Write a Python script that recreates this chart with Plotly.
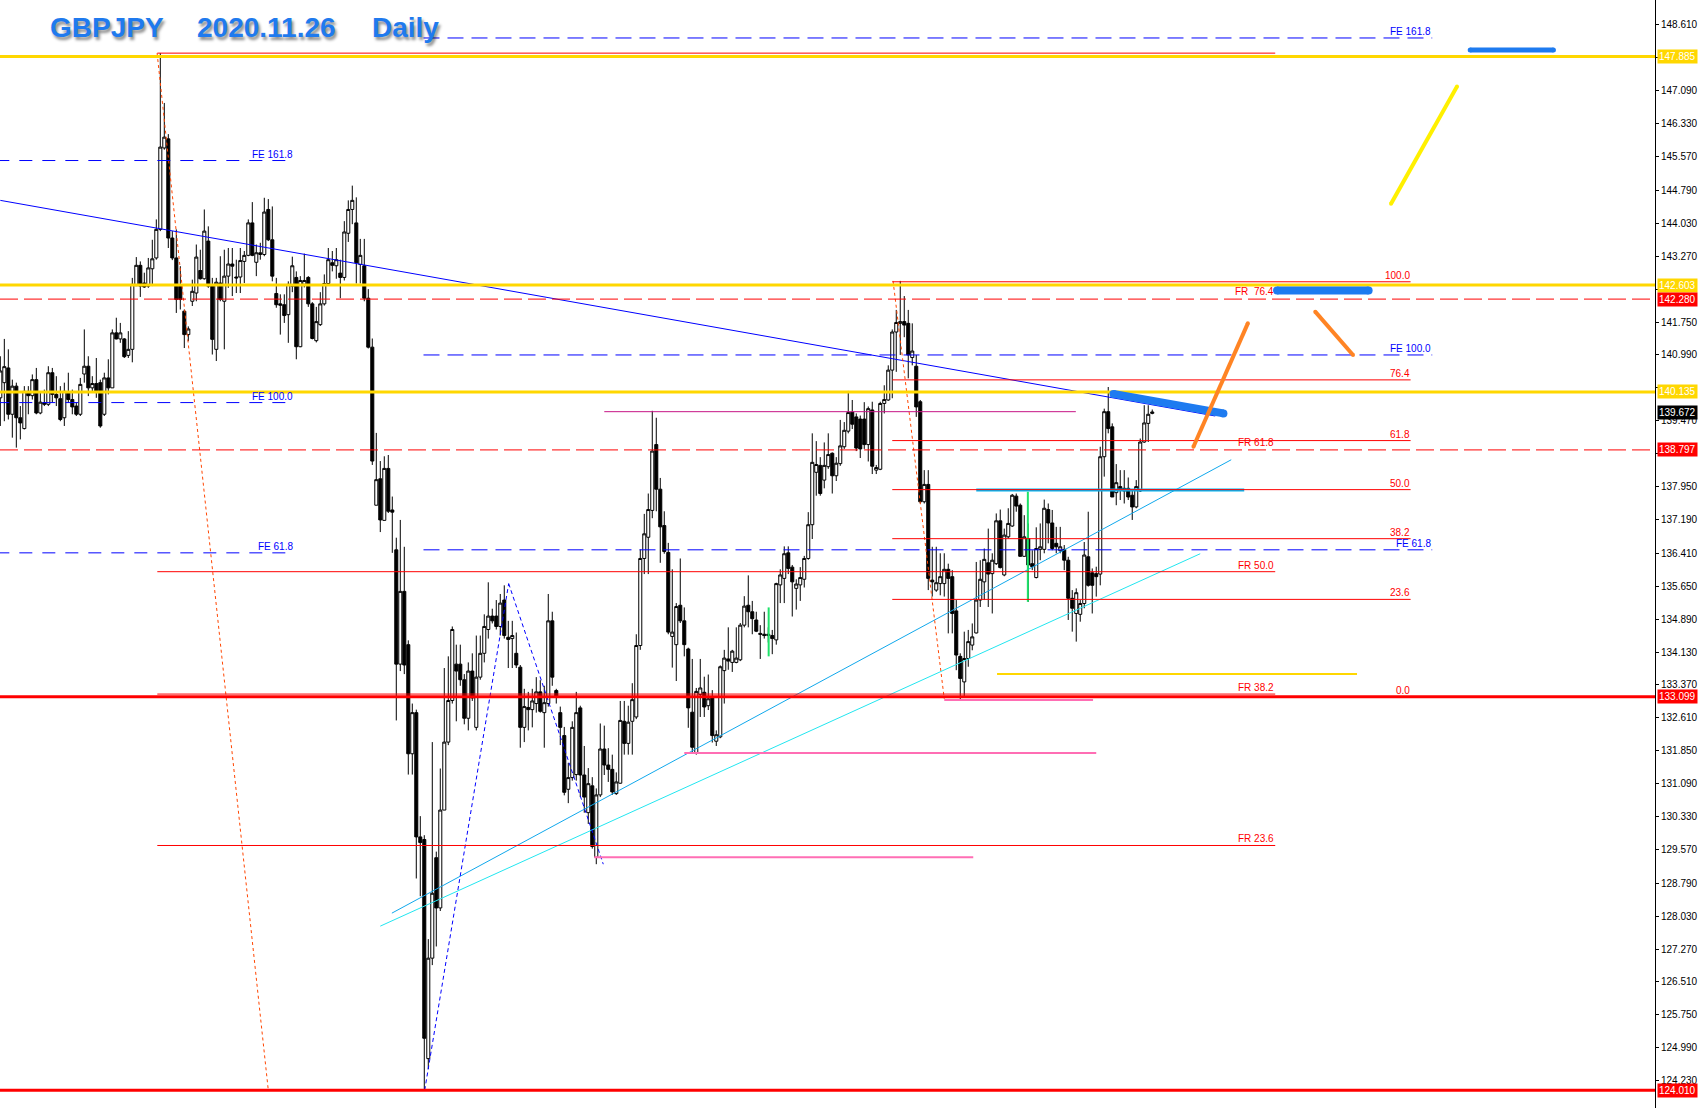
import plotly.graph_objects as go

# ---------------- daily candles (index 0 = first visible bar, last = 2020.11.26) ----------------
opens = [
    140.00, 140.35, 140.69, 139.62, 140.27, 139.54, 139.29, 140.15, 140.05, 140.42,
    139.65, 139.89, 139.85, 140.58, 140.08, 139.98, 139.54, 140.13, 139.96, 139.81,
    139.62, 140.55, 140.73, 140.23, 140.33, 140.35, 139.62, 140.46, 140.23, 141.50,
    141.36, 141.36, 140.98, 141.12, 142.59, 143.06, 142.65, 142.58, 142.98, 143.23,
    143.89, 145.77, 145.98, 143.69, 143.23, 142.58, 142.00, 141.46, 142.23, 142.42,
    142.94, 142.75, 143.62, 142.58, 141.12, 142.65, 142.23, 142.81, 143.09, 142.79,
    142.79, 143.15, 143.29, 144.04, 143.13, 143.31, 143.31, 144.35, 143.65, 142.41,
    142.17, 142.15, 141.92, 142.58, 142.78, 141.18, 142.62, 142.78, 142.17, 141.32,
    141.69, 142.17, 142.64, 143.12, 143.05, 142.88, 142.78, 143.80, 144.35, 144.04,
    143.08, 143.05, 142.30, 141.17, 137.52, 138.13, 137.17, 138.37, 137.41, 136.49,
    133.85, 135.53, 134.30, 131.78, 132.73, 129.86, 129.80, 124.74, 127.06, 129.38,
    128.22, 130.48, 132.05, 133.01, 133.85, 133.85, 133.49, 132.60, 133.69, 132.39,
    133.55, 134.10, 134.65, 134.96, 134.96, 134.72, 135.33, 134.47, 134.44, 134.10,
    133.78, 132.39, 132.85, 132.80, 132.94, 133.21, 132.73, 132.94, 134.85, 133.24,
    132.73, 132.20, 130.96, 131.23, 131.30, 132.84, 131.29, 130.42, 131.04, 129.39,
    130.83, 131.89, 131.52, 131.42, 130.86, 131.10, 132.53, 132.02, 132.53, 132.63,
    134.28, 136.29, 136.78, 137.40, 138.92, 137.89, 137.05, 136.43, 134.49, 134.30,
    135.21, 134.85, 134.20, 132.74, 131.81, 133.15, 133.20, 132.89, 133.07, 132.07,
    132.17, 133.70, 133.97, 133.89, 133.89, 133.95, 134.75, 135.21, 135.06, 134.87,
    134.56, 134.54, 134.51, 134.51, 134.41, 135.68, 135.83, 136.42, 136.09, 135.60,
    135.68, 135.81, 136.29, 137.07, 138.28, 138.44, 138.10, 138.41, 138.72, 138.20,
    138.48, 138.87, 139.23, 139.67, 139.56, 139.51, 139.51, 138.92, 139.72, 138.33,
    138.35, 139.87, 139.95, 140.64, 141.52, 141.72, 141.76, 141.72, 140.93, 140.73,
    139.91, 137.60, 138.00, 135.79, 135.56, 135.71, 135.71, 136.04, 135.87, 135.08,
    134.03, 133.44, 133.98, 134.29, 134.57, 135.33, 135.75, 136.19, 135.94, 136.17,
    137.16, 135.91, 136.79, 137.04, 137.73, 137.52, 136.34, 136.75, 136.17, 135.85,
    136.50, 136.50, 137.42, 137.11, 136.64, 136.47, 136.50, 136.25, 135.37, 135.02,
    135.00, 135.25, 136.33, 135.96, 135.94, 135.93, 138.64, 139.68, 139.33, 137.81,
    137.95, 137.91, 137.91, 137.75, 137.48, 137.85, 138.98, 139.41, 139.64,
]
highs = [
    140.96, 141.36, 141.12, 140.42, 140.35, 139.81, 140.27, 140.27, 140.54, 140.69,
    140.12, 140.19, 140.73, 140.69, 140.50, 140.27, 140.35, 140.58, 140.19, 139.89,
    140.46, 141.58, 140.96, 140.50, 140.92, 140.42, 140.58, 140.89, 141.58, 141.85,
    141.73, 141.38, 141.54, 142.77, 143.25, 143.15, 142.89, 143.23, 143.65, 144.12,
    147.96, 146.81, 146.09, 143.85, 143.89, 143.04, 142.04, 141.65, 142.73, 143.54,
    143.42, 144.35, 143.96, 142.77, 142.77, 143.27, 143.42, 143.46, 143.46, 143.19,
    143.46, 143.39, 144.12, 144.52, 143.54, 143.58, 144.62, 144.59, 144.42, 142.77,
    142.39, 142.39, 142.69, 143.26, 142.92, 142.81, 143.33, 142.81, 142.21, 142.10,
    142.44, 142.85, 143.46, 143.39, 143.46, 143.19, 144.08, 144.56, 144.90, 144.63,
    143.67, 143.67, 142.51, 141.37, 139.19, 138.54, 138.65, 138.68, 137.72, 136.77,
    137.18, 136.56, 134.40, 132.94, 132.80, 130.34, 129.90, 127.50, 132.05, 129.52,
    131.44, 133.76, 134.03, 134.72, 134.30, 134.30, 133.62, 133.89, 134.10, 134.51,
    134.51, 135.00, 135.74, 135.13, 135.33, 135.47, 135.67, 134.85, 134.85, 134.58,
    133.83, 133.28, 133.21, 133.28, 133.55, 133.48, 133.35, 135.47, 135.06, 133.28,
    132.87, 132.40, 131.57, 132.53, 133.21, 132.89, 131.96, 131.45, 131.24, 130.98,
    132.48, 132.43, 131.91, 131.76, 131.35, 133.00, 133.00, 132.89, 133.41, 134.54,
    136.50, 137.32, 137.79, 139.70, 139.54, 138.15, 137.38, 136.65, 136.04, 135.26,
    136.29, 135.16, 134.23, 133.97, 133.30, 133.97, 133.56, 133.61, 133.25, 132.32,
    133.82, 134.18, 134.70, 134.18, 134.70, 134.80, 135.42, 135.90, 135.31, 135.06,
    134.75, 135.06, 134.70, 134.64, 135.73, 136.04, 136.57, 136.57, 136.14, 135.81,
    136.09, 136.35, 137.36, 139.18, 139.00, 138.63, 138.97, 139.18, 138.74, 138.63,
    139.49, 139.44, 140.16, 139.95, 139.64, 139.59, 139.90, 139.80, 139.91, 138.45,
    139.91, 140.29, 140.75, 141.58, 142.03, 142.70, 142.35, 142.03, 141.72, 140.99,
    139.95, 138.33, 138.33, 136.56, 136.56, 136.41, 136.41, 136.17, 136.02, 135.33,
    134.10, 134.60, 134.64, 134.79, 136.21, 136.25, 136.52, 136.98, 136.41, 137.33,
    137.42, 136.98, 137.45, 137.78, 137.79, 137.56, 137.29, 137.10, 136.48, 137.01,
    137.10, 137.65, 137.56, 137.41, 137.02, 137.02, 136.60, 136.33, 135.56, 135.60,
    135.33, 136.67, 137.37, 136.06, 136.10, 138.87, 139.75, 140.25, 139.41, 138.47,
    138.33, 138.33, 138.16, 137.87, 138.10, 139.06, 139.83, 139.83, 139.73,
]
lows = [
    139.35, 139.46, 139.50, 139.08, 138.85, 139.04, 139.27, 139.62, 139.96, 139.62,
    139.62, 139.81, 139.81, 139.89, 139.81, 139.46, 139.35, 139.89, 139.62, 139.58,
    139.58, 140.35, 140.04, 140.12, 140.00, 139.31, 139.58, 140.08, 140.23, 141.35,
    141.27, 140.92, 140.92, 140.82, 142.58, 142.33, 142.54, 142.54, 142.58, 143.19,
    143.85, 145.73, 143.46, 143.18, 141.96, 142.04, 141.15, 141.31, 142.12, 142.23,
    142.73, 142.73, 142.54, 141.00, 140.85, 142.23, 141.12, 142.54, 142.35, 142.42,
    142.42, 142.65, 143.27, 143.27, 142.81, 143.19, 143.27, 143.62, 142.69, 142.08,
    141.46, 141.73, 141.27, 142.44, 140.89, 141.17, 142.55, 142.10, 141.35, 141.28,
    141.66, 142.13, 142.62, 142.92, 142.75, 142.30, 142.71, 143.60, 144.01, 142.64,
    142.64, 142.23, 141.14, 138.45, 137.52, 136.90, 137.17, 137.34, 136.42, 132.55,
    133.69, 133.62, 131.30, 131.30, 128.90, 128.49, 124.01, 124.50, 126.90, 127.33,
    128.15, 130.48, 131.98, 132.94, 132.53, 133.35, 132.46, 132.32, 133.00, 132.32,
    133.49, 133.89, 134.44, 134.79, 134.65, 134.51, 134.44, 133.76, 133.76, 133.76,
    131.92, 132.05, 132.32, 132.39, 132.73, 132.73, 131.92, 132.87, 133.35, 132.94,
    131.98, 130.82, 130.64, 131.16, 131.16, 130.78, 130.42, 130.16, 129.59, 129.23,
    130.78, 131.29, 131.13, 130.83, 130.83, 131.09, 131.76, 131.76, 131.76, 132.58,
    134.18, 135.93, 135.93, 137.22, 137.38, 136.19, 136.40, 134.54, 133.77, 133.46,
    134.80, 134.03, 132.38, 131.81, 131.76, 132.63, 132.63, 132.79, 132.04, 131.96,
    132.14, 132.94, 133.72, 133.67, 133.87, 133.92, 134.70, 134.70, 134.54, 134.59,
    133.97, 134.44, 134.35, 134.08, 134.30, 135.26, 135.26, 135.93, 134.95, 135.11,
    135.31, 135.62, 136.26, 136.74, 137.74, 137.74, 137.91, 138.36, 137.79, 138.08,
    138.43, 138.82, 139.18, 139.28, 138.77, 138.61, 138.82, 138.53, 138.24, 138.24,
    138.33, 139.64, 139.93, 139.99, 140.60, 140.99, 141.40, 140.45, 140.75, 139.56,
    137.56, 137.56, 135.56, 135.41, 135.52, 135.44, 135.41, 134.56, 134.56, 133.71,
    133.02, 133.10, 133.79, 134.17, 134.56, 135.17, 135.33, 135.17, 135.02, 136.14,
    136.06, 135.88, 136.75, 137.02, 137.37, 136.33, 136.33, 135.29, 136.02, 135.83,
    136.25, 136.41, 136.64, 136.48, 136.41, 136.41, 136.02, 134.87, 134.60, 134.37,
    134.83, 135.14, 135.64, 135.02, 135.41, 135.67, 138.18, 139.18, 137.71, 137.52,
    137.64, 137.56, 137.64, 137.18, 137.45, 137.83, 138.96, 138.98, 139.62,
]
closes = [
    140.62, 140.72, 139.62, 140.27, 139.54, 139.42, 140.15, 140.05, 140.42, 139.65,
    139.90, 139.85, 140.58, 140.08, 140.00, 139.50, 140.15, 139.96, 139.79, 139.62,
    140.31, 140.73, 140.23, 140.33, 140.15, 139.35, 140.46, 140.23, 141.50, 141.36,
    141.50, 140.95, 141.12, 142.62, 143.06, 142.58, 142.56, 143.00, 143.21, 143.89,
    145.79, 146.02, 143.69, 143.23, 142.27, 142.27, 141.46, 141.59, 142.46, 143.25,
    142.75, 143.85, 142.58, 141.35, 142.67, 142.27, 142.81, 143.09, 143.04, 142.77,
    143.17, 143.29, 144.04, 143.29, 143.35, 143.35, 144.29, 143.65, 142.81, 142.15,
    142.14, 141.90, 142.62, 143.05, 141.18, 142.71, 142.71, 142.17, 141.37, 141.76,
    142.17, 142.64, 143.19, 143.06, 143.19, 142.78, 143.83, 144.35, 144.56, 143.12,
    143.29, 142.30, 141.17, 138.54, 138.11, 137.18, 138.37, 137.38, 137.36, 133.85,
    135.53, 133.83, 131.78, 132.73, 129.86, 129.73, 125.21, 127.06, 128.56, 128.22,
    130.48, 132.05, 133.01, 134.65, 133.69, 133.49, 132.60, 133.69, 133.07, 133.55,
    134.10, 134.72, 134.96, 134.85, 134.72, 135.26, 134.51, 134.42, 134.51, 133.83,
    132.39, 132.87, 132.80, 133.00, 133.21, 132.76, 132.96, 134.85, 133.55, 133.08,
    132.39, 130.89, 131.23, 132.39, 132.73, 131.29, 130.78, 131.09, 129.64, 130.83,
    131.89, 131.52, 131.42, 130.90, 131.13, 132.55, 132.02, 132.51, 133.03, 134.28,
    136.29, 136.86, 137.42, 138.77, 137.89, 137.02, 136.45, 134.59, 134.59, 135.18,
    134.85, 134.30, 132.84, 131.93, 133.22, 133.30, 132.86, 133.05, 132.20, 132.22,
    133.79, 133.99, 133.92, 134.15, 133.99, 134.75, 135.19, 135.06, 134.90, 134.61,
    134.54, 134.51, 134.54, 134.44, 135.71, 135.91, 136.40, 136.06, 135.75, 135.70,
    135.85, 136.29, 137.07, 138.51, 138.46, 137.79, 138.44, 138.69, 138.20, 138.49,
    138.89, 139.25, 139.66, 139.39, 138.84, 138.82, 138.92, 139.75, 138.42, 138.39,
    139.87, 139.96, 140.64, 141.52, 141.74, 141.76, 141.68, 140.99, 141.08, 139.79,
    137.60, 138.00, 135.83, 135.75, 135.73, 135.87, 136.04, 135.83, 135.02, 134.06,
    133.52, 133.98, 134.37, 134.48, 135.33, 135.81, 136.27, 135.93, 136.25, 137.16,
    136.08, 136.83, 137.10, 137.75, 137.50, 136.34, 136.79, 136.14, 136.10, 136.52,
    136.56, 137.45, 137.11, 136.52, 136.56, 136.56, 136.25, 135.37, 135.14, 135.50,
    135.25, 136.37, 135.67, 135.67, 135.87, 138.64, 139.68, 139.29, 137.71, 138.04,
    137.87, 137.85, 137.71, 137.48, 137.95, 138.98, 139.42, 139.62, 139.672,
]
bar_index = list(range(len(opens)))

# ---------------- price axis ----------------
axis_ticks = [148.610, 147.850, 147.090, 146.330, 145.570, 144.790, 144.030, 143.270,
              142.510, 141.750, 140.990, 140.230, 139.470, 138.710, 137.950, 137.190,
              136.410, 135.650, 134.890, 134.130, 133.370, 132.610, 131.850, 131.090,
              130.330, 129.570, 128.790, 128.030, 127.270, 126.510, 125.750, 124.990, 124.230]
# ticks whose label sits underneath a price tag
covered_ticks = [147.850, 142.510, 140.230, 138.710]
price_tags = [147.885, 142.603, 142.280, 140.135, 139.672, 138.797, 133.099, 124.010]
price_tag_kind = ["gold", "gold", "red", "gold", "black", "red", "red", "red"]

# horizontal price lines
gold_levels = [147.885, 142.603, 140.135]
red_dash_levels = [142.280, 138.797]
red_thick_levels = [133.099, 124.010]

# Fibonacci retracement (left: Dec-2019 high -> Mar-2020 low)
fr_left_high, fr_left_low = 147.96, 124.01
fr_left_pcts = [100.0, 76.4, 61.8, 50.0, 38.2, 23.6, 0.0]
fr_left_span = (39.25, 318.75)
# Fibonacci retracement (right: Sep-2020 high -> Sep-2020 low)
fr_right_high, fr_right_low = 142.68, 133.08
fr_right_pcts = [100.0, 76.4, 61.8, 50.0, 38.2, 23.6, 0.0]
fr_right_span = (223.0, 352.6)

# Fibonacci expansion levels
fe_names = ["FE 161.8", "FE 100.0", "FE 61.8"]
fe_left_prices = [145.48, 139.89, 136.42]
fe_left_end = 73.0
fe_right_prices = [148.31, 140.99, 136.49]
fe_right_span = (105.8, 358.0)

# trend lines (bar index, price)
down_trend = [(0.0, 144.56), (303.75, 139.58)]
up_trend_1 = [(97.9, 128.10), (307.75, 138.57)]
up_trend_2 = [(95.0, 127.80), (300.0, 136.40)]
zigzag = [(106.1, 124.01), (127.1, 135.71), (150.75, 129.23)]
swing_dots_1 = [(39.2, 147.96), (67.0, 124.01)]
swing_dots_2 = [(223.2, 142.70), (236.0, 133.05)]

# horizontal segments (x0, x1, price)
magenta_seg = [(151.0, 268.9, 139.68)]
pink_segs = [(236.0, 273.2, 133.02), (171.0, 274.0, 131.80), (148.5, 243.25, 129.39)]
cyan_seg = [(244.0, 311.0, 137.87)]
gold_seg = [(249.2, 339.2, 133.62)]
green_marks = [(192.1, 134.03, 135.16), (256.9, 135.29, 137.83)]

# hand-drawn scenario strokes
blue_strokes = [[(367.5, 148.035), (388.3, 148.035)],
                [(319.2, 142.48), (342.1, 142.48)],
                [(278.3, 140.09), (305.8, 139.64)]]
blue_widths = [5, 8, 8]
orange_strokes = [[(298.3, 138.87), (311.9, 141.72)], [(328.75, 141.99), (338.2, 140.99)]]
yellow_strokes = [[(347.7, 144.48), (364.2, 147.19)]]

# ---------------- figure ----------------
RED = "#FF0000"
GOLD = "#FFD700"
BLUE = "#0000FF"
LBL_FONT = "Liberation Sans, Arial, sans-serif"

fig = go.Figure()
fig.add_trace(go.Candlestick(
    x=bar_index, open=opens, high=highs, low=lows, close=closes,
    increasing=dict(line=dict(color="black", width=1), fillcolor="white"),
    decreasing=dict(line=dict(color="black", width=1), fillcolor="black"),
    whiskerwidth=0, showlegend=False, hoverinfo="skip",
))

shapes = []
annotations = []


def seg(x0, y0, x1, y1, color, width=1, dash="solid"):
    shapes.append(dict(type="line", xref="x", yref="y", x0=x0, y0=y0, x1=x1, y1=y1,
                       line=dict(color=color, width=width, dash=dash)))


def full_h(y, color, width=1, dash="solid"):
    shapes.append(dict(type="line", xref="paper", yref="y", x0=0, x1=1, y0=y, y1=y,
                       line=dict(color=color, width=width, dash=dash)))


def label(x, y, text, color, anchor="right"):
    annotations.append(dict(x=x, y=y, xref="x", yref="y", text=text, showarrow=False,
                            xanchor=anchor, yanchor="bottom", borderpad=0, yshift=0,
                            font=dict(family=LBL_FONT, size=10, color=color)))


def cap(x, y, color, r):
    shapes.append(dict(type="circle", xref="x", yref="y", xsizemode="pixel", ysizemode="pixel",
                       xanchor=x, yanchor=y, x0=-r, x1=r, y0=-r, y1=r,
                       fillcolor=color, line=dict(width=0)))


# trend / helper lines under the main levels
seg(*down_trend[0], *down_trend[1], "#0000FF", 1)
seg(*up_trend_1[0], *up_trend_1[1], "#10A8EC", 1)
seg(*up_trend_2[0], *up_trend_2[1], "#22E6F0", 1)
for a, b in zip(zigzag[:-1], zigzag[1:]):
    seg(*a, *b, BLUE, 1, "4px,3px")
seg(*swing_dots_1[0], *swing_dots_1[1], "#FF4500", 1, "3px,3px")
seg(*swing_dots_2[0], *swing_dots_2[1], "#FF4500", 1, "3px,3px")
for x0, x1, p in magenta_seg:
    seg(x0, p, x1, p, "#C71585", 1)
for x0, x1, p in pink_segs:
    seg(x0, p, x1, p, "#FF6EB4", 2)
for x0, x1, p in cyan_seg:
    seg(x0, p, x1, p, "#00B4F0", 3)
for x0, x1, p in gold_seg:
    seg(x0, p, x1, p, GOLD, 2)
for x, lo, hi in green_marks:
    seg(x, lo, x, hi, "#1EE26A", 2)

# Fibonacci expansions
for name, p in zip(fe_names, fe_left_prices):
    seg(-1, p, fe_left_end - 0.5, p, BLUE, 1, "13px,10px")
    label(fe_left_end + 0.5, p, name, BLUE)
for name, p in zip(fe_names, fe_right_prices):
    seg(fe_right_span[0], p, fe_right_span[1], p, BLUE, 1, "16px,8px")
    label(fe_right_span[1], p, name, BLUE)

# Fibonacci retracements
for pct in fr_left_pcts:
    p = fr_left_low + (fr_left_high - fr_left_low) * pct / 100.0
    if pct not in (76.4, 61.8):
        seg(fr_left_span[0], p, fr_left_span[1], p, RED, 1)
    if pct not in (100.0, 0.0):
        label(fr_left_span[1], p, "FR %.1f" % pct if pct != 76.4 else "FR  76.4", RED)
for pct in fr_right_pcts:
    p = fr_right_low + (fr_right_high - fr_right_low) * pct / 100.0
    seg(fr_right_span[0], p, fr_right_span[1], p, RED, 1)
    label(fr_right_span[1], p, "%.1f" % pct, RED)

# full-width horizontal price lines
for p in red_dash_levels:
    full_h(p, RED, 1, "18px,6px")
for p in gold_levels:
    full_h(p, GOLD, 3)
for p in red_thick_levels:
    full_h(p, RED, 3)

# hand drawn scenario strokes (rounded ends)
for stroke, w in zip(blue_strokes, blue_widths):
    seg(*stroke[0], *stroke[1], "#1E7BF0", w)
    for pt in stroke:
        cap(*pt, "#1E7BF0", w / 2)
for stroke in orange_strokes:
    seg(*stroke[0], *stroke[1], "#FF8424", 4)
    for pt in stroke:
        cap(*pt, "#FF8424", 2)
for stroke in yellow_strokes:
    seg(*stroke[0], *stroke[1], "#FFF000", 4)
    for pt in stroke:
        cap(*pt, "#FFF000", 2)

# price tags on the axis
tag_bg = {"gold": GOLD, "red": RED, "black": "#000000"}
for p, kind in zip(price_tags, price_tag_kind):
    annotations.append(dict(x=1, y=p, xref="paper", yref="y", text="%.3f" % p, showarrow=False,
                            xanchor="left", yanchor="middle", xshift=2, bgcolor=tag_bg[kind],
                            borderpad=1, font=dict(family=LBL_FONT, size=10, color="white")))

# title
title_parts = ["GBPJPY", "2020.11.26", "Daily"]
title_px = [48, 195, 370]
for txt, px in zip(title_parts, title_px):
    annotations.append(dict(x=px / 1655.0, y=1 - 27 / 1108.0, xref="paper", yref="paper",
                            text="<b>%s</b>" % txt, showarrow=False, xanchor="left", yanchor="middle",
                            font=dict(family="Liberation Sans, Arial, sans-serif", size=28,
                                      color="#1F7AEE",
                                      shadow="2px 3px 3px rgba(0,0,0,0.45)")))

tick_text = ["" if t in covered_ticks else "%.3f" % t for t in axis_ticks]

fig.update_layout(
    width=1701, height=1108,
    margin=dict(l=0, r=46, t=0, b=0),
    paper_bgcolor="white", plot_bgcolor="white",
    showlegend=False, hovermode=False,
    boxgap=0.2, boxgroupgap=0.05,
    shapes=shapes, annotations=annotations,
    xaxis=dict(range=[-0.08, 413.7], visible=False, rangeslider=dict(visible=False),
               showgrid=False, zeroline=False, fixedrange=True),
    yaxis=dict(range=[123.600, 149.187], side="right", showgrid=False, zeroline=False,
               tickmode="array", tickvals=axis_ticks, ticktext=tick_text,
               ticks="outside", ticklen=3, tickcolor="black", showline=True, linecolor="black",
               linewidth=1, tickfont=dict(family=LBL_FONT, size=10, color="black"),
               fixedrange=True),
)

fig.write_html("out.html", config={"displayModeBar": False},
               post_script="document.body.style.margin='0';document.body.style.overflow='hidden';")
